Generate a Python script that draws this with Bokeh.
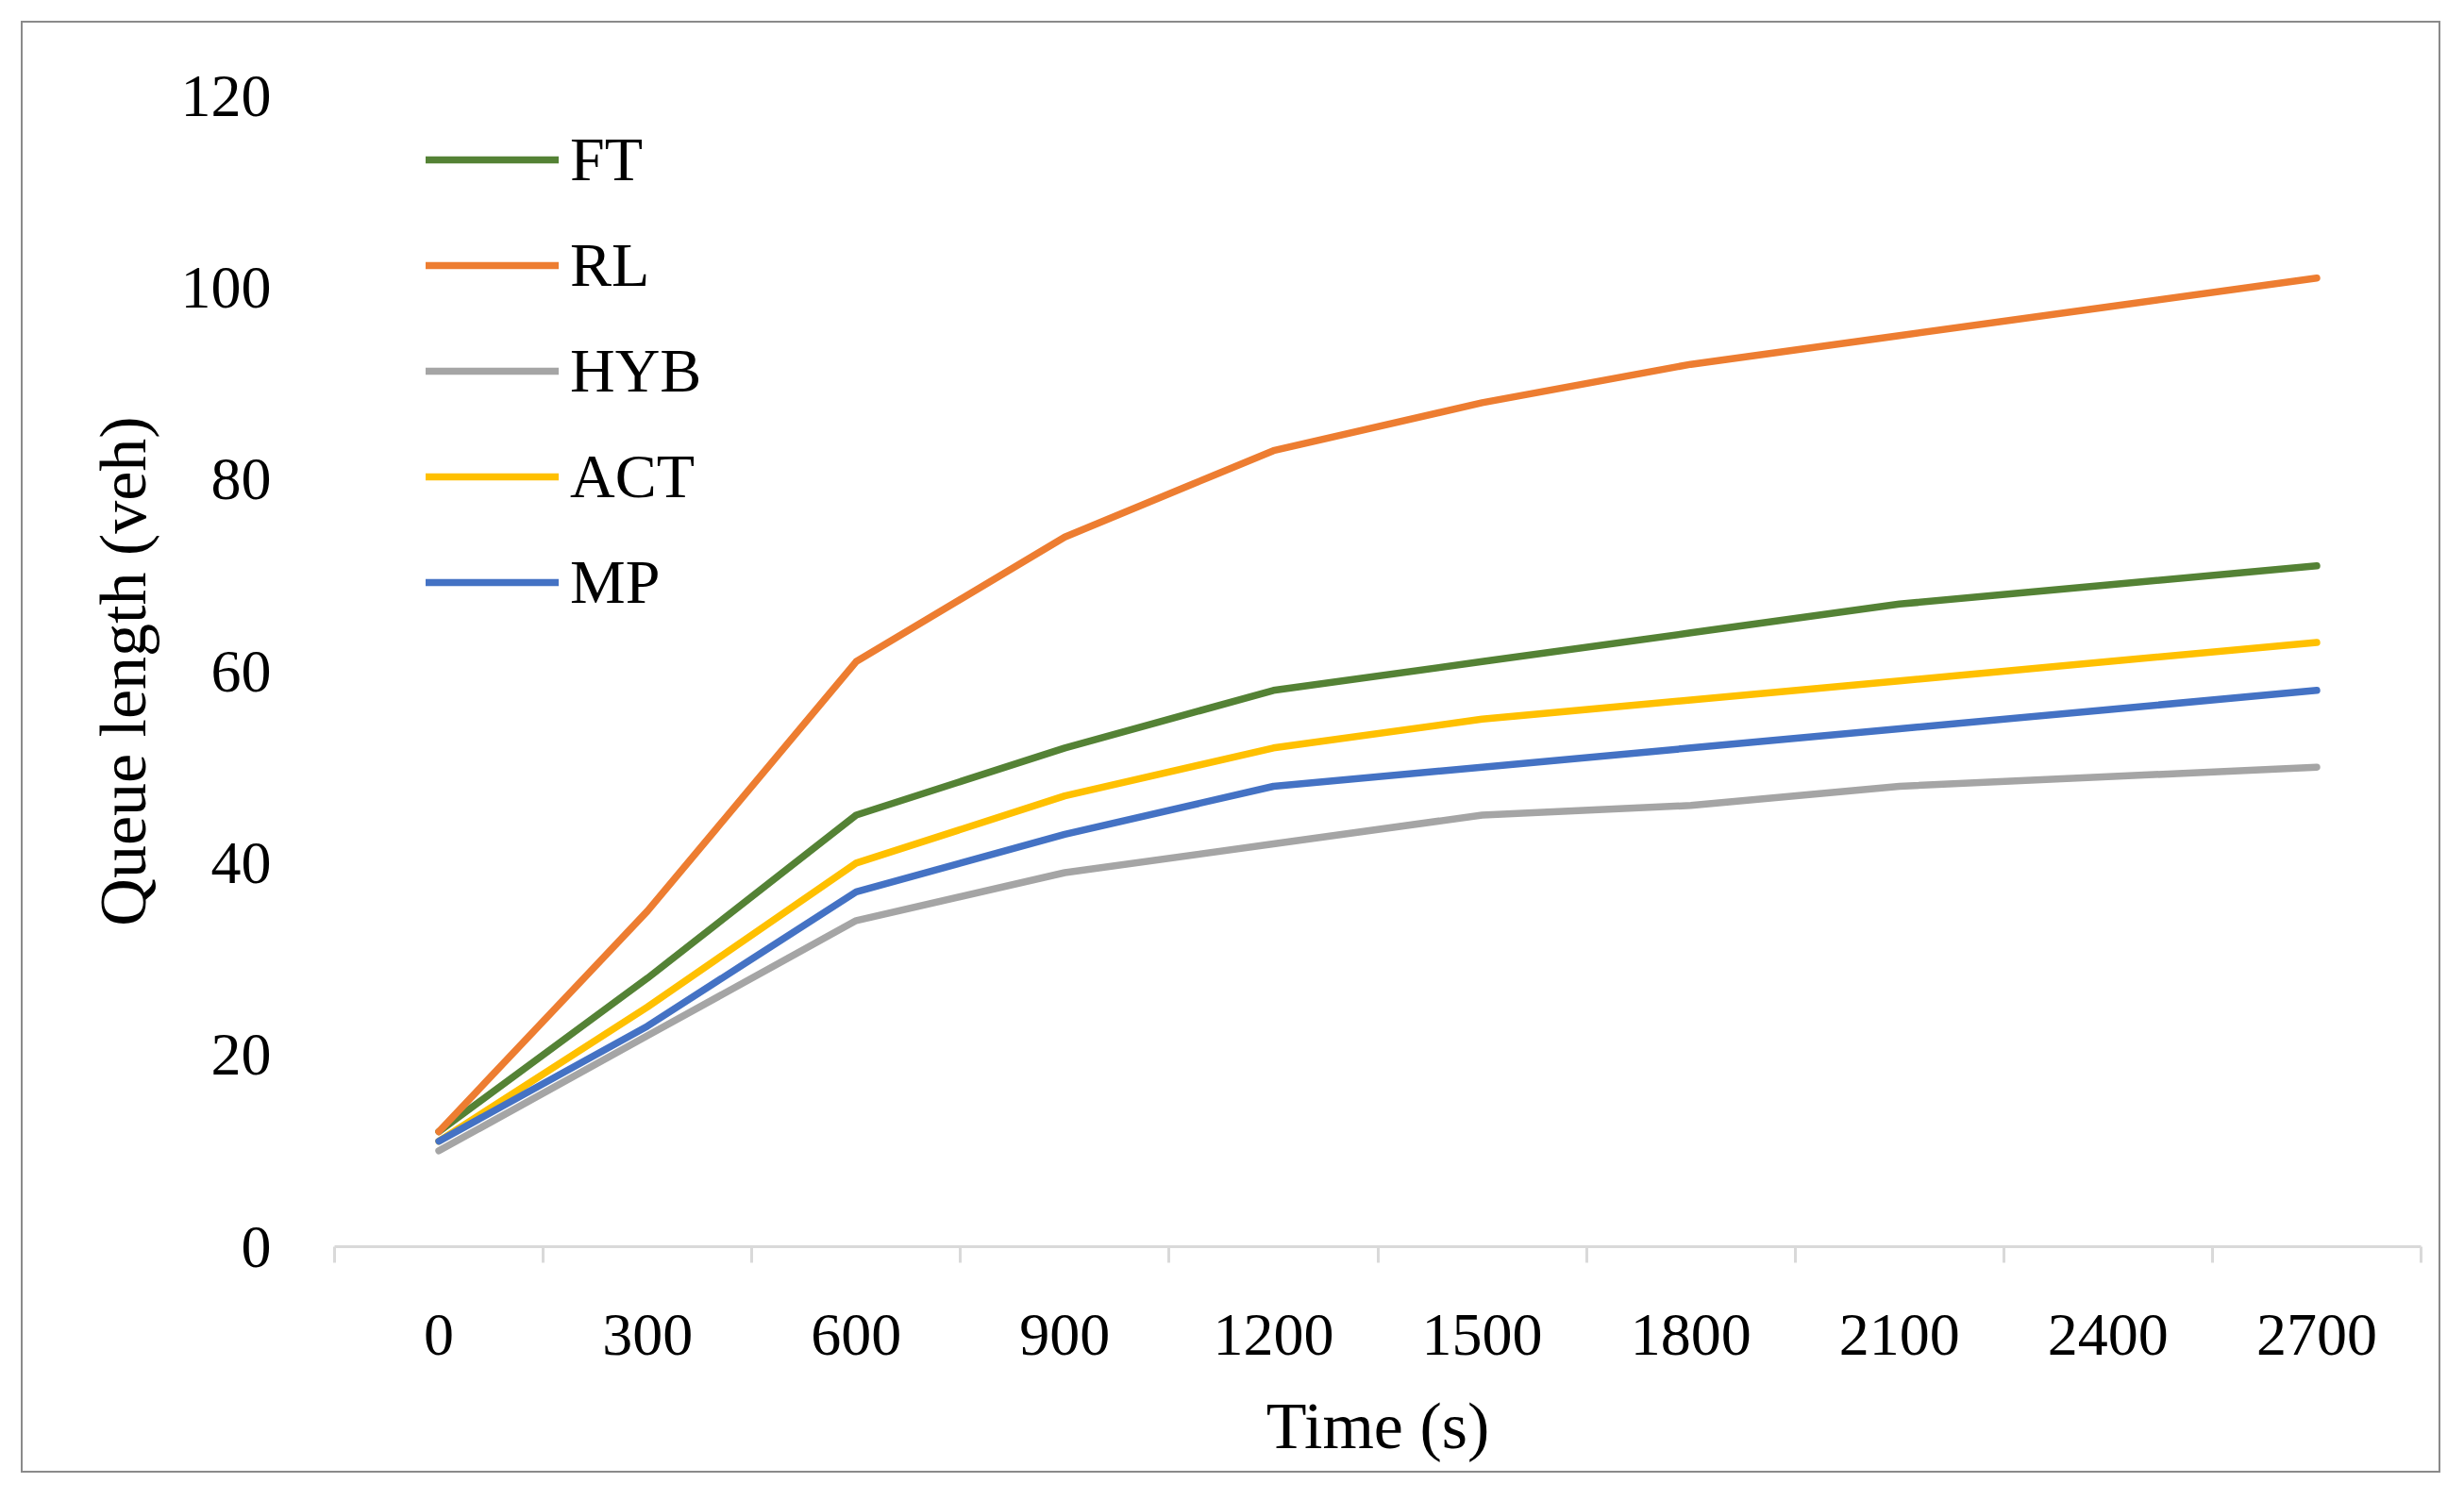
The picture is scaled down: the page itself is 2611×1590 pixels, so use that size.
from bokeh.plotting import figure
from bokeh.models import Range1d, FixedTicker, Legend, LegendItem, Spacer
from bokeh.layouts import column, row
from bokeh.embed import file_html
from bokeh.resources import INLINE

times = [0, 300, 600, 900, 1200, 1500, 1800, 2100, 2400, 2700]
tick_labels = ["0", "300", "600", "900", "1200", "1500", "1800", "2100", "2400", "2700"]
ft = [12, 28, 45, 52, 58, 61, 64, 67, 69, 71]
rl = [12, 35, 61, 74, 83, 88, 92, 95, 98, 101]
hyb = [10, 22, 34, 39, 42, 45, 46, 48, 49, 50]
act = [11, 25, 40, 47, 52, 55, 57, 59, 61, 63]
mp = [11, 23, 37, 43, 48, 50, 52, 54, 56, 58]
series_names = ["FT", "RL", "HYB", "ACT", "MP"]
series_vals = [ft, rl, hyb, act, mp]
colors = ["#548235", "#ED7D31", "#A5A5A5", "#FFC000", "#4472C4"]
y_ticks = [0, 20, 40, 60, 80, 100, 120]

FONT = "Liberation Serif"

p = figure(width=2564, height=1539, output_backend="svg", toolbar_location=None,
           x_range=Range1d(-150, 2850), y_range=Range1d(0, 120),
           min_border_left=330, min_border_right=23, min_border_top=77, min_border_bottom=242)
p.styles = {"border": "2px solid #8a8a8a", "box-sizing": "border-box"}
p.outline_line_color = None
p.background_fill_color = "white"
p.border_fill_color = "white"
p.grid.visible = False

items = []
for name, vals, c in zip(series_names, series_vals, colors):
    r = p.line(times, vals, line_color=c, line_width=7.5, line_cap="round", line_join="round")
    items.append(LegendItem(label=name, renderers=[r]))

# x axis
xa = p.xaxis[0]
xa.ticker = FixedTicker(ticks=times, minor_ticks=[t - 150 for t in times] + [2850])
xa.major_label_overrides = {t: l for t, l in zip(times, tick_labels)}
xa.major_tick_line_color = None
xa.major_tick_out = 0
xa.major_tick_in = 0
xa.minor_tick_line_color = "#D9D9D9"
xa.minor_tick_line_width = 3
xa.minor_tick_out = 17
xa.minor_tick_in = 0
xa.axis_line_color = "#D9D9D9"
xa.axis_line_width = 3
xa.major_label_text_font = FONT
xa.major_label_text_font_size = "64px"
xa.major_label_text_color = "#000000"
xa.major_label_standoff = 55
xa.axis_label = "Time (s)"
xa.axis_label_text_font = FONT
xa.axis_label_text_font_size = "70px"
xa.axis_label_text_font_style = "normal"
xa.axis_label_text_color = "#000000"
xa.axis_label_standoff = 34

# y axis
ya = p.yaxis[0]
ya.ticker = FixedTicker(ticks=y_ticks)
ya.axis_line_color = None
ya.major_tick_line_color = None
ya.minor_tick_line_color = None
ya.major_tick_out = 0
ya.major_tick_in = 0
ya.major_label_text_font = FONT
ya.major_label_text_font_size = "64px"
ya.major_label_text_color = "#000000"
ya.major_label_standoff = 67
ya.axis_label = "Queue length (veh)"
ya.axis_label_text_font = FONT
ya.axis_label_text_font_size = "70px"
ya.axis_label_text_font_style = "normal"
ya.axis_label_text_color = "#000000"
ya.axis_label_standoff = 20

legend = Legend(items=items, location=(97, 1220 - 18 - 548))
legend.background_fill_alpha = 0
legend.border_line_color = None
legend.padding = 0
legend.margin = 0
legend.spacing = 12
legend.glyph_width = 141
legend.glyph_height = 100
legend.label_height = 100
legend.label_standoff = 12
legend.label_text_font = FONT
legend.label_text_font_size = "66px"
legend.label_text_color = "#000000"
p.add_layout(legend, "center")

layout = column(Spacer(height=22), row(Spacer(width=22), p))
open("out.html", "w").write(file_html(layout, INLINE))
